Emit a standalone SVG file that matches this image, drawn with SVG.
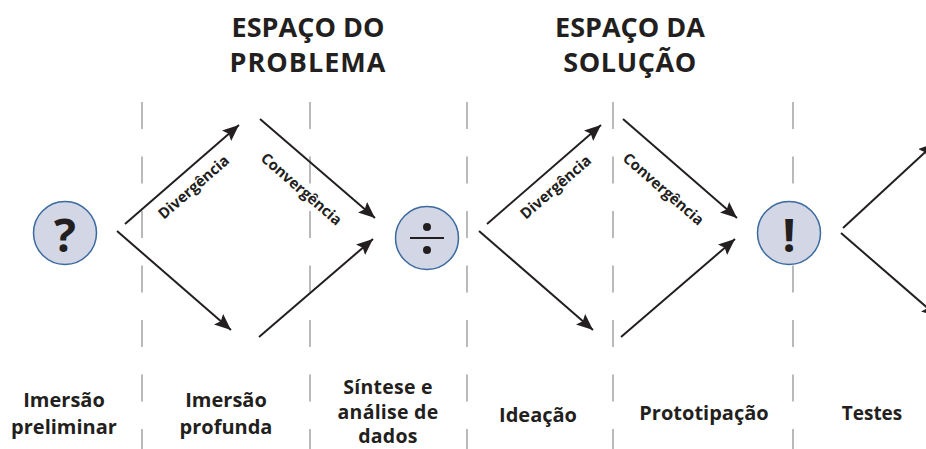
<svg xmlns="http://www.w3.org/2000/svg" width="926" height="449" viewBox="0 0 926 449">
<style>
text{font-family:"Open Sans","Liberation Sans",sans-serif;font-weight:700;fill:#231f20;text-anchor:middle}
.h{font-size:27px}
.l{font-size:20px}
.s{font-size:19.5px;letter-spacing:.25px}
.r{font-size:15px}
.g{font-size:46px}
.d{stroke:#939598;stroke-width:1.3;stroke-dasharray:27 27.5;fill:none}
.a{stroke:#231f20;stroke-width:2;fill:none;marker-end:url(#ah)}
.c{fill:#d2d6e5;stroke:#3a6aa0;stroke-width:1.5}
</style>
<defs>
<marker id="ah" markerUnits="userSpaceOnUse" markerWidth="18" markerHeight="15" refX="16.5" refY="7" orient="auto">
<path d="M0 0L16.5 7L0 14L3 7Z" fill="#231f20"/>
</marker>
</defs>
<rect width="926" height="449" fill="#fff"/>
<g id="dividers">
<path class="d" d="M142 102V449"/>
<path class="d" d="M310 102V449"/>
<path class="d" d="M467 102V449"/>
<path class="d" d="M613 102V449"/>
<path class="d" d="M793 102V449"/>
</g>
<g id="connectors">
<path class="a" d="M125 224L239 125"/>
<path class="a" d="M117 231L231 330"/>
<path class="a" d="M260 119L375 218"/>
<path class="a" d="M259 337L373 239"/>
<path class="a" d="M487 224L601 125"/>
<path class="a" d="M479 231L593 330"/>
<path class="a" d="M623 119L737 218"/>
<path class="a" d="M621 337L735 239"/>
<path class="a" d="M843 228L935 143"/>
<path class="a" d="M841 233L938 317"/>
</g>
<g id="node-question"><circle class="c" cx="65" cy="233" r="31.5"/><text class="g" x="65" y="252">?</text></g>
<g id="node-divide"><circle class="c" cx="427" cy="238" r="31.5"/><circle cx="427" cy="227" r="4" fill="#231f20"/><circle cx="427" cy="250" r="4" fill="#231f20"/><path d="M410 238H444" stroke="#231f20" stroke-width="2"/></g>
<g id="node-exclaim"><circle class="c" cx="789" cy="233" r="31.5"/><text class="g" x="789" y="252">!</text></g>
<g id="titles">
<text class="h" x="308" y="37">ESPAÇO DO</text>
<text class="h" x="308" y="72" letter-spacing="1">PROBLEMA</text>
<text class="h" x="630" y="37">ESPAÇO DA</text>
<text class="h" x="630" y="72" letter-spacing="0.6">SOLUÇÃO</text>
</g>
<g id="edge-labels">
<text class="r" transform="translate(197 191) rotate(-41)">Divergência</text>
<text class="r" transform="translate(298 193) rotate(41)">Convergência</text>
<text class="r" transform="translate(559 191) rotate(-41)">Divergência</text>
<text class="r" transform="translate(660 193) rotate(41)">Convergência</text>
</g>
<g id="stage-labels">
<text class="l" x="64" y="407">Imersão</text>
<text class="l" x="64" y="434">preliminar</text>
<text class="l" x="226" y="407">Imersão</text>
<text class="l" x="226" y="434">profunda</text>
<text class="s" x="388" y="394">Síntese e</text>
<text class="s" x="388" y="418.5">análise de</text>
<text class="s" x="388" y="443">dados</text>
<text class="l" x="538" y="422">Ideação</text>
<text class="l" x="704" y="420">Prototipação</text>
<text class="l" x="872" y="420" style="font-size:19px">Testes</text>
</g>
</svg>
